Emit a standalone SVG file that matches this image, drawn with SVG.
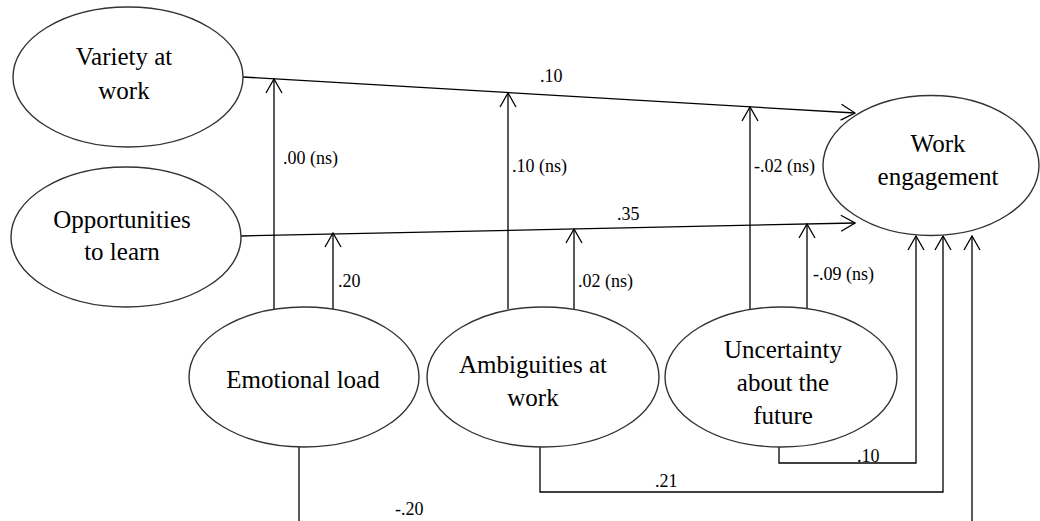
<svg xmlns="http://www.w3.org/2000/svg" width="1040" height="521" viewBox="0 0 1040 521">
<style>
text{font-family:"Liberation Serif","DejaVu Serif",serif}
.node ellipse{fill:#fff;stroke:#333;stroke-width:1.4}
.node text{font-size:25px;fill:#000;text-anchor:middle}
.lbl{font-size:18px;fill:#000}
#connectors path,#connectors line,#connectors polyline{fill:none;stroke:#000;stroke-width:1.3}
</style>
<defs>
<marker id="arr" markerUnits="userSpaceOnUse" markerWidth="16" markerHeight="18" viewBox="0 0 16 18" refX="15" refY="9" orient="auto">
<path d="M1,1 L15,9 L1,17" fill="none" stroke="#000" stroke-width="1.3"/>
</marker>
</defs>
<rect width="1040" height="521" fill="#fff"/>
<g id="connectors">
<line x1="243" y1="77" x2="855" y2="113" marker-end="url(#arr)"/>
<line x1="241" y1="236" x2="855" y2="223" marker-end="url(#arr)"/>
<line x1="274" y1="309" x2="274" y2="79" marker-end="url(#arr)"/>
<line x1="333" y1="309" x2="333" y2="233" marker-end="url(#arr)"/>
<line x1="508" y1="309" x2="508" y2="93" marker-end="url(#arr)"/>
<line x1="574" y1="309" x2="574" y2="229" marker-end="url(#arr)"/>
<line x1="750" y1="309" x2="750" y2="107" marker-end="url(#arr)"/>
<line x1="807" y1="309" x2="807" y2="224" marker-end="url(#arr)"/>
<polyline points="779,447 779,463 916,463 916,236" marker-end="url(#arr)"/>
<polyline points="540,447 540,492 943,492 943,236" marker-end="url(#arr)"/>
<line x1="972" y1="521" x2="972" y2="236" marker-end="url(#arr)"/>
<line x1="299" y1="447" x2="299" y2="521"/>
<text class="lbl" x="540" y="82">.10</text>
<text class="lbl" x="283" y="164">.00 (ns)</text>
<text class="lbl" x="512" y="172">.10 (ns)</text>
<text class="lbl" x="754" y="172">-.02 (ns)</text>
<text class="lbl" x="617" y="220">.35</text>
<text class="lbl" x="338" y="287">.20</text>
<text class="lbl" x="578" y="287">.02 (ns)</text>
<text class="lbl" x="813" y="280">-.09 (ns)</text>
<text class="lbl" x="857" y="462">.10</text>
<text class="lbl" x="655" y="487">.21</text>
<text class="lbl" x="395" y="515">-.20</text>
</g>
<g id="variety" class="node">
<ellipse cx="128" cy="77" rx="115" ry="70"/>
<text x="124" y="65">Variety at</text>
<text x="124" y="99">work</text>
</g>
<g id="opportunities" class="node">
<ellipse cx="126" cy="237" rx="115" ry="70"/>
<text x="122" y="228">Opportunities</text>
<text x="122" y="260">to learn</text>
</g>
<g id="engagement" class="node">
<ellipse cx="931" cy="165.5" rx="108" ry="70"/>
<text x="938" y="152">Work</text>
<text x="938" y="185">engagement</text>
</g>
<g id="emotional" class="node">
<ellipse cx="304" cy="377" rx="115" ry="70"/>
<text x="303" y="388">Emotional load</text>
</g>
<g id="ambiguities" class="node">
<ellipse cx="543" cy="377" rx="116" ry="70"/>
<text x="533" y="373">Ambiguities at</text>
<text x="533" y="406">work</text>
</g>
<g id="uncertainty" class="node">
<ellipse cx="781" cy="377" rx="116" ry="70"/>
<text x="783" y="358">Uncertainty</text>
<text x="783" y="391">about the</text>
<text x="783" y="424">future</text>
</g>
</svg>
